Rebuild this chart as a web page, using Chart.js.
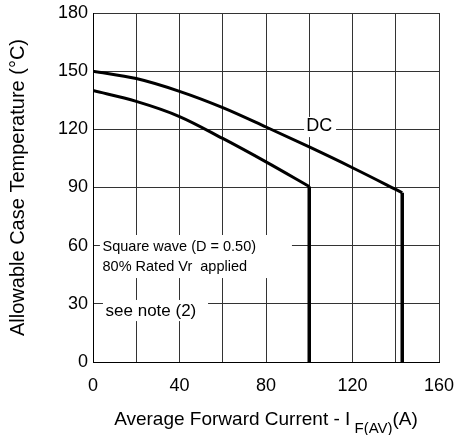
<!DOCTYPE html>
<html>
<head>
<meta charset="utf-8">
<script src="https://cdn.jsdelivr.net/npm/chart.js@4.4.1/dist/chart.umd.min.js"></script>
<style>
  html, body { margin: 0; padding: 0; background: #fff; }
  #wrap { width: 457px; height: 435px; }
</style>
</head>
<body>
<div id="wrap"><canvas id="c" width="457" height="435"></canvas></div>
<script>
// values
const dcCurrent   = [0, 20, 40, 60, 80, 100, 120, 140, 143];
const dcTemp      = [150, 146.2, 139.6, 131.2, 121.2, 110.9, 100.2, 89, 87.3];
const sqCurrent   = [0, 20, 40, 60, 80, 100];
const sqTemp      = [140, 134.4, 126.6, 115.3, 103.2, 90.5];
const dcDropX     = [143, 143];
const dcDropY     = [87.3, 0];
const sqDropX     = [100, 100];
const sqDropY     = [90.5, 0];

const xTicks = [0, 40, 80, 120, 160];
const yTicks = [0, 30, 60, 90, 120, 150, 180];

// notes on the plot, in data units
const notes = [
  { box: [3.2, 92, 65.5, 43.3], lines: ["Square wave (D = 0.50)", "80% Rated Vr  applied"],
    x: 4.4, y: [59.4, 48.9], size: 14.5, align: "left" },
  { box: [4.6, 53.2, 32, 21.1], lines: ["see note (2)"], x: 5.8, y: [26.4], size: 17, align: "left" },
  { box: [97.6, 112.4, 126.4, 116], lines: ["DC"], x: 104.6, y: [121.6], size: 18, align: "center" }
];

const FONT = "'Liberation Sans', Arial, Helvetica, sans-serif";

const pts = (xs, ys) => xs.map((x, i) => ({ x, y: ys[i] }));

const notesPlugin = {
  id: "notes",
  beforeDatasetsDraw(chart) {
    const { ctx, scales: { x, y } } = chart;
    ctx.save();
    notes.forEach(n => {
      const x0 = x.getPixelForValue(n.box[0]), x1 = x.getPixelForValue(n.box[1]);
      const y0 = y.getPixelForValue(n.box[2]), y1 = y.getPixelForValue(n.box[3]);
      ctx.fillStyle = "#fff";
      ctx.fillRect(x0, y0, x1 - x0, y1 - y0);
      ctx.fillStyle = "#000";
      ctx.font = n.size + "px " + FONT;
      ctx.textAlign = n.align;
      ctx.textBaseline = "middle";
      n.lines.forEach((t, i) => ctx.fillText(t, x.getPixelForValue(n.x), y.getPixelForValue(n.y[i])));
    });
    ctx.restore();
  }
};

// x title with subscript
const xTitlePlugin = {
  id: "xTitle",
  afterDraw(chart) {
    const { ctx, chartArea } = chart;
    const parts = [
      { t: "Average Forward Current - I", size: 19, dy: 0 },
      { t: " F(AV)", size: 15, dy: 8 },
      { t: "(A)", size: 19, dy: 0 }
    ];
    ctx.save();
    ctx.fillStyle = "#000";
    ctx.textBaseline = "alphabetic";
    ctx.textAlign = "left";
    let total = 0;
    parts.forEach(p => { ctx.font = p.size + "px " + FONT; p.w = ctx.measureText(p.t).width; total += p.w; });
    let cx = (chartArea.left + chartArea.right) / 2 - total / 2;
    const base = chartArea.bottom + 63;
    parts.forEach(p => {
      ctx.font = p.size + "px " + FONT;
      ctx.fillText(p.t, cx, base + p.dy);
      cx += p.w;
    });
    ctx.restore();
  }
};

const lineStyle = { borderColor: "#000", pointRadius: 0, fill: false, showLine: true };

new Chart(document.getElementById("c"), {
  type: "scatter",
  data: {
    datasets: [
      { ...lineStyle, label: "DC", data: pts(dcCurrent, dcTemp), borderWidth: 3, cubicInterpolationMode: "monotone" },
      { ...lineStyle, label: "Square wave", data: pts(sqCurrent, sqTemp), borderWidth: 3, cubicInterpolationMode: "monotone" },
      { ...lineStyle, label: "DC limit", data: pts(dcDropX, dcDropY), borderWidth: 3.5, tension: 0 },
      { ...lineStyle, label: "SW limit", data: pts(sqDropX, sqDropY), borderWidth: 3.5, tension: 0 }
    ]
  },
  options: {
    responsive: false,
    animation: false,
    devicePixelRatio: 1,
    layout: { padding: { top: 13, right: 18, left: 0, bottom: 0 } },
    plugins: { legend: { display: false }, tooltip: { enabled: false } },
    scales: {
      x: {
        type: "linear",
        min: 0, max: 160,
        afterFit(s) { s.height = 73; s.paddingLeft = 0; s.paddingRight = 0; },
        afterBuildTicks(s) { s.ticks = [0, 20, 40, 60, 80, 100, 120, 140, 160].map(v => ({ value: v })); },
        ticks: {
          color: "#000",
          font: { family: FONT, size: 18 },
          padding: 13,
          maxRotation: 0,
          autoSkip: false,
          callback: v => (xTicks.includes(v) ? v : "")
        },
        grid: { color: "#333", lineWidth: 1, drawTicks: false },
        border: { color: "#000", width: 1 }
      },
      y: {
        min: 0, max: 180,
        afterFit(s) { s.width = 93; s.paddingTop = 0; s.paddingBottom = 0; },
        afterBuildTicks(s) { s.ticks = yTicks.map(v => ({ value: v })); },
        ticks: {
          color: "#000",
          font: { family: FONT, size: 18 },
          padding: 5,
          autoSkip: false
        },
        grid: { color: "#333", lineWidth: 1, drawTicks: false },
        border: { color: "#000", width: 1 },
        title: {
          display: true,
          text: "Allowable Case Temperature (°C)",
          color: "#000",
          font: { family: FONT, size: 20 },
          padding: { top: 6, bottom: 0 }
        }
      }
    }
  },
  plugins: [notesPlugin, xTitlePlugin]
});
</script>
</body>
</html>
